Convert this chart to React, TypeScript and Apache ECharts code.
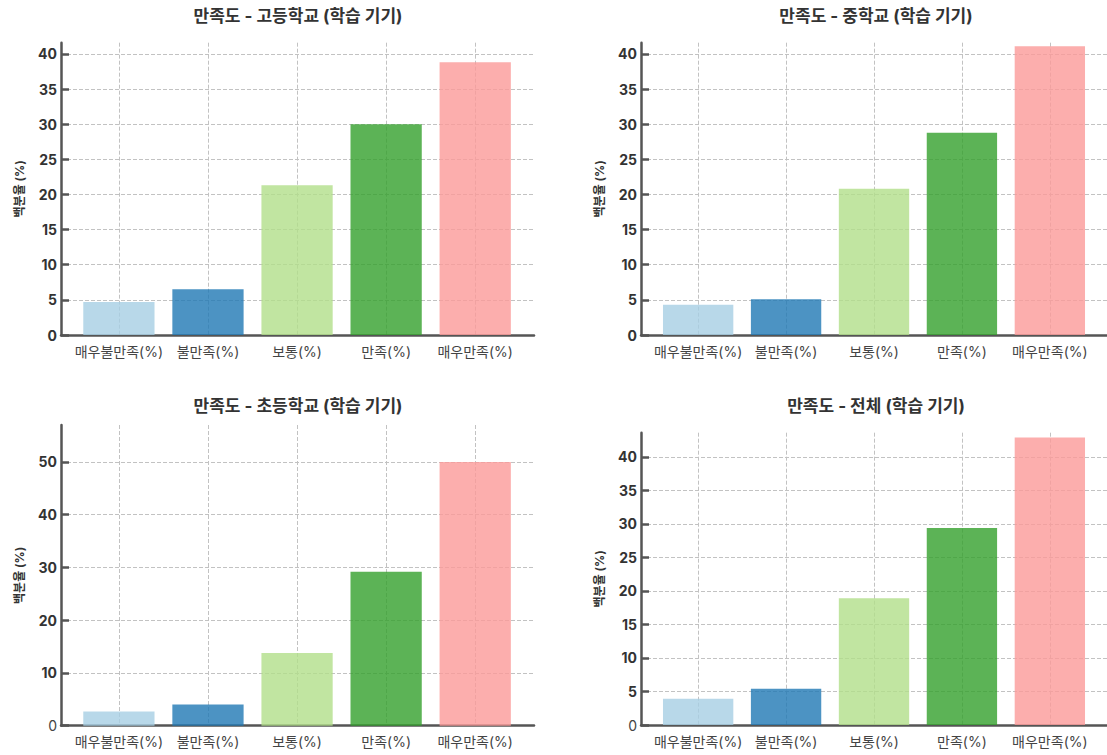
import React, { useEffect, useRef } from 'react';
import * as echarts from 'echarts';

const CATEGORIES = ['매우불만족(%)', '불만족(%)', '보통(%)', '만족(%)', '매우만족(%)'];
const TITLES = [
  '만족도 - 고등학교 (학습 기기)',
  '만족도 - 중학교 (학습 기기)',
  '만족도 - 초등학교 (학습 기기)',
  '만족도 - 전체 (학습 기기)',
];
const HIGH_SCHOOL = [4.7, 6.5, 21.3, 30.0, 38.8];
const MIDDLE_SCHOOL = [4.3, 5.1, 20.8, 28.8, 41.1];
const ELEMENTARY_SCHOOL = [2.7, 4.0, 13.8, 29.2, 50.0];
const TOTAL = [3.9, 5.4, 18.9, 29.4, 42.9];
const Y_TICKS_A = [0, 5, 10, 15, 20, 25, 30, 35, 40];
const Y_TICKS_B = [0, 10, 20, 30, 40, 50];
const Y_MAX = [41.6, 41.6, 57, 43.6];
const X_MIN = -0.65;
const X_MAX = [4.66, 4.65, 4.66, 4.65];
const Y_NAME = '백분율 (%)';
const BAR_COLORS = ['#a6cee3', '#1f78b4', '#b2df8a', '#33a02c', '#fb9a99'];

const SERIES_VALUES = [HIGH_SCHOOL, MIDDLE_SCHOOL, ELEMENTARY_SCHOOL, TOTAL];
const Y_TICKS = [Y_TICKS_A, Y_TICKS_A, Y_TICKS_B, Y_TICKS_A];

const PANELS = [
  { left: 61, top: 42.7, width: 473, height: 292.3, titleX: 298, titleY: 7, lightZero: false },
  { left: 641, top: 42.7, width: 470, height: 292.3, titleX: 876, titleY: 7, lightZero: false },
  { left: 61, top: 425, width: 473, height: 300.7, titleX: 298, titleY: 397, lightZero: true },
  { left: 641, top: 432.7, width: 470, height: 292.3, titleX: 876, titleY: 397, lightZero: true },
];

const FONT = "Inter, 'Noto Sans CJK KR', 'Noto Sans', sans-serif";
const AXIS_COLOR = '#555555';
const GRID_COLOR = '#c2c2c2';

export default function App() {
  const ref = useRef<HTMLDivElement>(null);

  useEffect(() => {
    if (!ref.current) return;
    const chart = echarts.init(ref.current, null, { renderer: 'svg' });

    const option: any = {
      animation: false,
      backgroundColor: '#ffffff',
      textStyle: { fontFamily: FONT },
      title: PANELS.map((p, k) => ({
        text: TITLES[k],
        left: p.titleX,
        top: p.titleY,
        textAlign: 'center',
        padding: 0,
        textStyle: { fontFamily: FONT, fontSize: 17, fontWeight: 'bold', color: '#333333' },
      })),
      grid: PANELS.map((p) => ({
        left: p.left,
        top: p.top,
        width: p.width,
        height: p.height,
        containLabel: false,
      })),
      xAxis: PANELS.map((p, k) => ({
        type: 'value',
        gridIndex: k,
        min: X_MIN,
        max: X_MAX[k],
        axisLine: { show: true, onZero: false, lineStyle: { color: AXIS_COLOR, width: 2.5 } },
        axisTick: { show: false, customValues: [0, 1, 2, 3, 4] },
        axisLabel: {
          customValues: [0, 1, 2, 3, 4],
          formatter: (v: number) => CATEGORIES[Math.round(v)] ?? '',
          fontFamily: FONT,
          fontSize: 14,
          color: '#444444',
          margin: 9,
        },
        splitLine: { show: true, lineStyle: { color: GRID_COLOR, type: [4, 2], width: 1 } },
      })),
      yAxis: PANELS.map((p, k) => ({
        type: 'value',
        gridIndex: k,
        min: 0,
        max: Y_MAX[k],
        name: Y_NAME,
        nameLocation: 'middle',
        nameGap: 36,
        nameTextStyle: { fontFamily: FONT, fontSize: 12, fontWeight: 'bold', color: '#333333' },
        axisLine: { show: true, onZero: false, lineStyle: { color: AXIS_COLOR, width: 2.5 } },
        axisTick: {
          show: true,
          inside: true,
          length: 8,
          customValues: Y_TICKS[k],
          lineStyle: { color: AXIS_COLOR, width: 2.5 },
        },
        axisLabel: {
          customValues: Y_TICKS[k],
          fontFamily: FONT,
          fontSize: 14,
          fontWeight: 'bold',
          color: '#333333',
          margin: 4,
          formatter: (v: number) => (v === 0 && p.lightZero ? '{z|0}' : String(v)),
          rich: {
            z: { fontFamily: FONT, fontSize: 14, fontWeight: 'normal', color: '#444444' },
          },
        },
        splitLine: { show: true, lineStyle: { color: GRID_COLOR, type: [4, 2], width: 1 } },
      })),
      series: SERIES_VALUES.map((vals, k) => ({
        type: 'bar',
        xAxisIndex: k,
        yAxisIndex: k,
        barWidth: '80%',
        itemStyle: { opacity: 0.8 },
        data: vals.map((v, i) => ({ value: [i, v], itemStyle: { color: BAR_COLORS[i] } })),
      })),
    };

    chart.setOption(option);
    return () => chart.dispose();
  }, []);

  return (
    <div
      ref={ref}
      style={{ position: 'fixed', left: 0, top: 0, width: 1107, height: 755, background: '#fff' }}
    />
  );
}
